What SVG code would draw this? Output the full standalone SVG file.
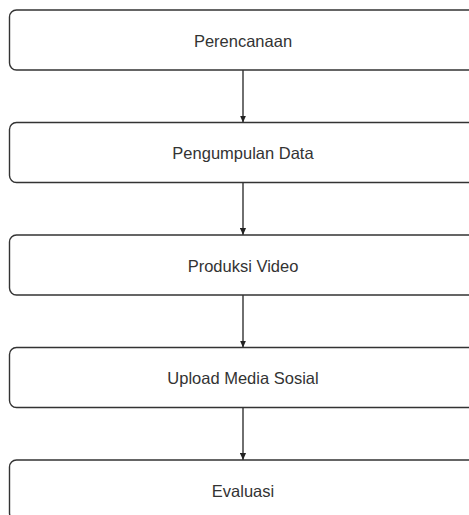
<svg xmlns="http://www.w3.org/2000/svg" width="469" height="515" viewBox="0 0 469 515">
<defs>
<style>
.box{fill:#fff;stroke:#333;stroke-width:1.4}
.lbl{font-family:"Liberation Sans",Arial,sans-serif;font-size:16.5px;fill:#333;text-anchor:middle;dominant-baseline:central}
.con{stroke:#222;stroke-width:1.3;fill:none;marker-end:url(#ah)}
</style>
<marker id="ah" viewBox="0 0 8 8" refX="8" refY="4" markerWidth="7" markerHeight="7" markerUnits="userSpaceOnUse" orient="auto">
<path d="M0,0.5 L8,4 L0,7.5 Z" fill="#222"/>
</marker>
</defs>
<rect width="469" height="515" fill="#fff"/>
<g id="connectors">
<line class="con" x1="243" y1="70" x2="243" y2="122.5"/>
<line class="con" x1="243" y1="182.5" x2="243" y2="235"/>
<line class="con" x1="243" y1="295" x2="243" y2="347.5"/>
<line class="con" x1="243" y1="407.5" x2="243" y2="460"/>
</g>
<g id="n1"><rect class="box" x="9.5" y="10" width="467" height="60" rx="7"/><text class="lbl" x="243" y="40.5">Perencanaan</text></g>
<g id="n2"><rect class="box" x="9.5" y="122.5" width="467" height="60" rx="7"/><text class="lbl" x="243" y="153">Pengumpulan Data</text></g>
<g id="n3"><rect class="box" x="9.5" y="235" width="467" height="60" rx="7"/><text class="lbl" x="243" y="265.5">Produksi Video</text></g>
<g id="n4"><rect class="box" x="9.5" y="347.5" width="467" height="60" rx="7"/><text class="lbl" x="243" y="378">Upload Media Sosial</text></g>
<g id="n5"><rect class="box" x="9.5" y="460" width="467" height="60" rx="7"/><text class="lbl" x="243" y="490.5">Evaluasi</text></g>
</svg>
